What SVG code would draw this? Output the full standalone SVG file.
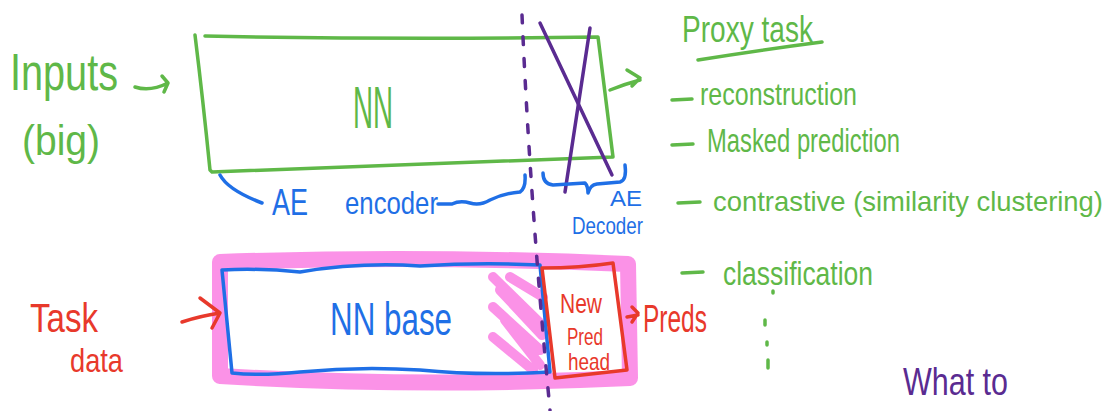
<svg xmlns="http://www.w3.org/2000/svg" width="1117" height="411" viewBox="0 0 1117 411">
<style>
.g{fill:#5fb848;font-family:"Liberation Sans",Arial,sans-serif}
.b{fill:#1f6fe6;font-family:"Liberation Sans",Arial,sans-serif}
.r{fill:#e8392b;font-family:"Liberation Sans",Arial,sans-serif}
.p{fill:#5a2b91;font-family:"Liberation Sans",Arial,sans-serif}
.sg{fill:none;stroke:#5fb848;stroke-width:3.5;stroke-linecap:round;stroke-linejoin:round}
.sb{fill:none;stroke:#1f6fe6;stroke-width:3.5;stroke-linecap:round;stroke-linejoin:round}
.sr{fill:none;stroke:#e8392b;stroke-width:3.5;stroke-linecap:round;stroke-linejoin:round}
.sp{fill:none;stroke:#5a2b91;stroke-width:3.5;stroke-linecap:round;stroke-linejoin:round}
.pk{fill:none;stroke:#fa7fe3;stroke-linecap:round;stroke-linejoin:round;opacity:0.85}
</style>
<rect width="1117" height="411" fill="#ffffff"/>

<g id="inputs">
<text class="g" x="10" y="90" font-size="52" textLength="108" lengthAdjust="spacingAndGlyphs">Inputs</text>
<text class="g" x="22" y="155" font-size="42" textLength="78" lengthAdjust="spacingAndGlyphs">(big)</text>
</g>

<g id="nn">
<path class="sg" d="M195,35 Q203,100 210,170 L212,172 Q400,165 613,157 L598,37 Q400,40 205,36"/>
<text class="g" x="353" y="128" font-size="60" textLength="40" lengthAdjust="spacingAndGlyphs">NN</text>
</g>

<g id="ae-encoder">
<path class="sb" d="M220,175 Q228,190 262,203"/>
<path class="sb" d="M438,204 L452,204 Q460,200 470,203 Q480,206 490,200 Q505,193 520,192 Q526,188 525,175"/>
<text class="b" x="272" y="215" font-size="36" textLength="36" lengthAdjust="spacingAndGlyphs">AE</text>
<text class="b" x="345" y="214" font-size="32" textLength="93" lengthAdjust="spacingAndGlyphs">encoder</text>
</g>

<g id="ae-decoder">
<path class="sp" d="M540,23 L612,175"/>
<path class="sp" d="M590,28 L565,192"/>
<path class="sb" d="M543,173 Q543,184 553,185 L585,183 Q588,186 588,193 Q590,185 597,184 L620,182 Q627,180 625,165"/>
<text class="b" x="610" y="206" font-size="22" textLength="32" lengthAdjust="spacingAndGlyphs">AE</text>
<text class="b" x="572" y="234" font-size="24" textLength="71" lengthAdjust="spacingAndGlyphs">Decoder</text>
</g>

<g id="proxy-task">
<text class="g" x="682" y="42" font-size="36" textLength="131" lengthAdjust="spacingAndGlyphs">Proxy task</text>
<path class="sg" d="M698,60 Q760,50 822,42"/>
<path class="sg" d="M672,100 L692,99 M672,145 L693,144 M678,203 L700,202 M682,273 L703,272"/>
<text class="g" x="700" y="105" font-size="32" textLength="157" lengthAdjust="spacingAndGlyphs">reconstruction</text>
<text class="g" x="707" y="152" font-size="34" textLength="193" lengthAdjust="spacingAndGlyphs">Masked prediction</text>
<text class="g" x="713" y="211" font-size="28" textLength="390" lengthAdjust="spacingAndGlyphs">contrastive (similarity clustering)</text>
<text class="g" x="723" y="285" font-size="34" textLength="150" lengthAdjust="spacingAndGlyphs">classification</text>
<path class="sg" d="M773,291 L773,293 M765,320 L765,325 M767,342 L767,345 M768,360 L768,368"/>
</g>

<g id="task-data">
<text class="r" x="30" y="332" font-size="40" textLength="68" lengthAdjust="spacingAndGlyphs">Task</text>
<text class="r" x="70" y="372" font-size="34" textLength="53" lengthAdjust="spacingAndGlyphs">data</text>
</g>

<g id="highlight">
<path class="pk" stroke-width="16" d="M220,262 Q420,255 628,264 L630,378 Q420,388 220,376 Z"/>
<path class="pk" stroke-width="10" opacity="0.5" d="M493,277 L540,323 M493,307 L540,350 M493,337 L533,370 M510,277 L543,297 M500,290 L542,335 M505,320 L540,365"/>
</g>

<g id="nn-base">
<path class="sb" d="M222,270 Q260,268 300,272 Q360,262 420,266 Q480,262 540,265 L550,372 Q480,376 420,370 Q360,366 300,372 Q260,376 232,373 Z"/>
<text class="b" x="330" y="335" font-size="46" textLength="122" lengthAdjust="spacingAndGlyphs">NN base</text>
</g>

<g id="pred-head">
<path class="sr" d="M542,268 Q580,268 613,263 L627,370 Q590,374 555,378 Z"/>
<text class="r" x="560" y="313" font-size="28" textLength="42" lengthAdjust="spacingAndGlyphs">New</text>
<text class="r" x="567" y="345" font-size="24" textLength="36" lengthAdjust="spacingAndGlyphs">Pred</text>
<text class="r" x="568" y="370" font-size="24" textLength="42" lengthAdjust="spacingAndGlyphs">head</text>
</g>

<g id="preds">
<text class="r" x="643" y="332" font-size="38" textLength="64" lengthAdjust="spacingAndGlyphs">Preds</text>
</g>

<g id="what-to">
<text class="p" x="903" y="395" font-size="38" textLength="105" lengthAdjust="spacingAndGlyphs">What to</text>
</g>

<g id="connectors">
<path class="sg" d="M135,87 Q150,92 168,83 M162,76 L168,83 L164,92"/>
<path class="sg" d="M610,90 Q625,84 640,80 M627,70 L640,78 L632,86"/>
<path class="sr" d="M182,322 Q200,316 220,313 M200,298 L220,313 L212,328"/>
<path class="sr" d="M627,317 L638,315 M632,307 L638,313 L632,322"/>
<path class="sp" stroke-width="1.8" stroke-dasharray="8 14" d="M522,15 Q530,200 550,410"/>
</g>
</svg>
